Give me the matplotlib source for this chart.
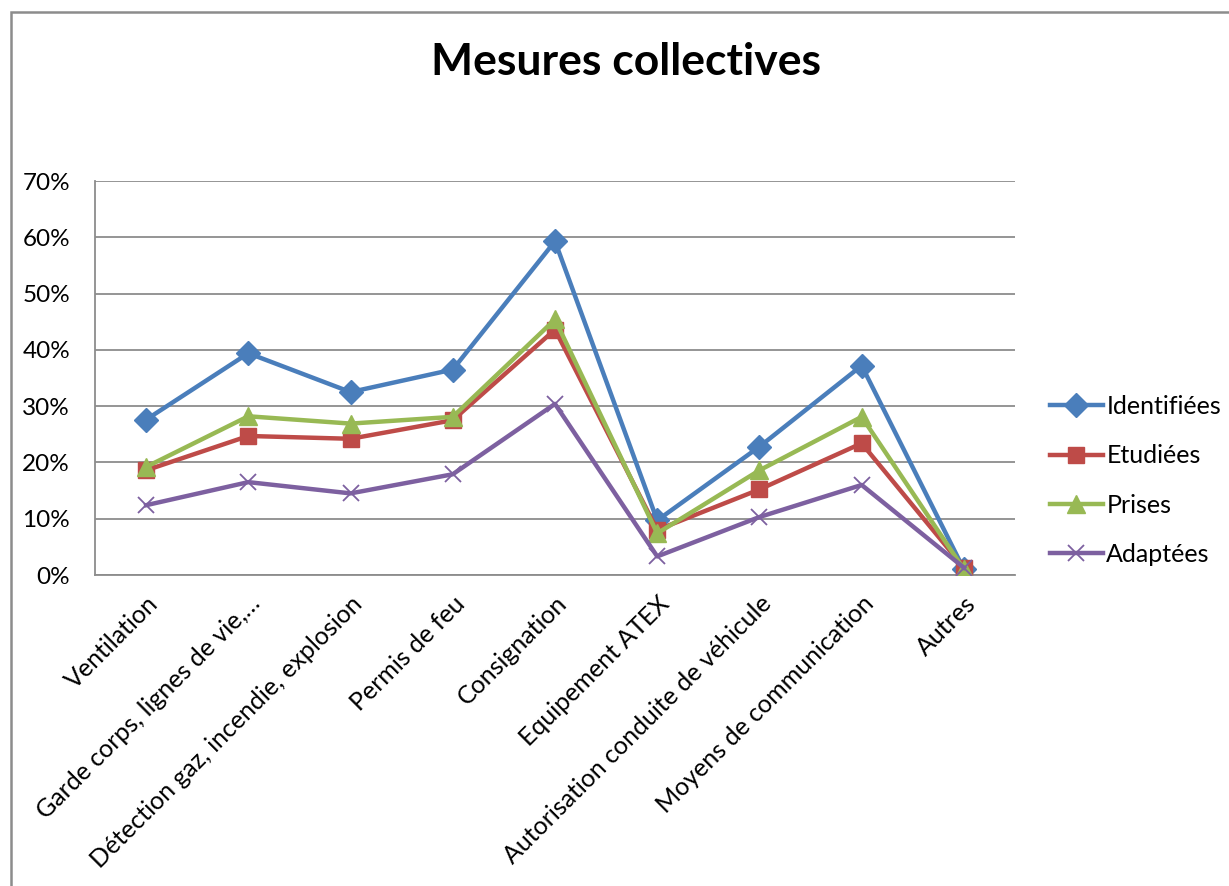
import matplotlib
matplotlib.use("Agg")
import matplotlib.pyplot as plt
from matplotlib.patches import Rectangle
from matplotlib.ticker import PercentFormatter

plt.rcParams['font.family'] = ['Lato', 'DejaVu Sans']

categories = [
    "Ventilation",
    "Garde corps, lignes de vie,…",
    "Détection gaz, incendie, explosion",
    "Permis de feu",
    "Consignation",
    "Equipement ATEX",
    "Autorisation conduite de véhicule",
    "Moyens de communication",
    "Autres",
]

identifiees = [27.6, 39.4, 32.5, 36.5, 59.3, 9.7, 22.8, 37.2, 1.0]
etudiees = [18.6, 24.7, 24.2, 27.5, 43.6, 8.0, 15.2, 23.4, 1.3]
prises = [19.2, 28.2, 26.9, 28.1, 45.4, 7.4, 18.6, 28.1, 1.0]
adaptees = [12.4, 16.5, 14.5, 17.9, 30.4, 3.3, 10.3, 16.0, 1.3]

series = [
    ("Identifiées", identifiees, "#4A7EBB", "D", 12, 1.0),
    ("Etudiées", etudiees, "#BE4B48", "s", 11, 1.0),
    ("Prises", prises, "#98B954", "^", 13, 1.0),
    ("Adaptées", adaptees, "#7D60A0", "x", 12, 1.3),
]

W, H = 1229, 886
fig = plt.figure(figsize=(W / 100, H / 100), dpi=100)
fig.patch.set_facecolor("white")

# chart frame
fig.add_artist(Rectangle((11 / W, -0.01), 1.05, 1 - 12 / H + 0.01,
                         transform=fig.transFigure, fill=False,
                         edgecolor="#8c8c8c", linewidth=1.8))

ax = fig.add_axes([95 / W, 1 - 575 / H, (1015 - 95) / W, (575 - 181) / H])

x = list(range(len(categories)))
for name, vals, color, marker, ms, mew in series:
    if marker == "x":
        ax.plot(x, vals, color=color, lw=3.2, marker=marker, ms=ms,
                mew=mew, mec=color, label=name, zorder=3)
    else:
        ax.plot(x, vals, color=color, lw=3.2, marker=marker, ms=ms,
                mfc=color, mec=color, label=name, zorder=3)

ax.set_xlim(-0.5, len(categories) - 0.5)
ax.set_ylim(0, 70)
ax.set_yticks(range(0, 71, 10))
ax.yaxis.set_major_formatter(PercentFormatter(decimals=0))
ax.grid(axis="y", color="#8c8c8c", lw=1.3)
ax.set_axisbelow(True)
for side in ("top", "right"):
    ax.spines[side].set_visible(False)
for side in ("left", "bottom"):
    ax.spines[side].set_color("#8c8c8c")
    ax.spines[side].set_linewidth(1.3)
ax.tick_params(axis="y", length=0, pad=18, labelsize=17.5)
ax.tick_params(axis="x", length=0, pad=12, labelsize=18)
ax.set_xticks(x)
ax.set_xticklabels(categories, rotation=45, ha="right",
                   rotation_mode="anchor")

fig.text(626 / W, 1 - 62 / H, "Mesures collectives", ha="center",
         va="center", fontsize=32, fontweight="bold")

leg = ax.legend(loc="center left", bbox_to_anchor=(1.0245, 0.24),
                frameon=False, fontsize=18, handlelength=2.1,
                handletextpad=0.15, labelspacing=1.05, borderpad=0)

fig.savefig("out.png", dpi=100)
